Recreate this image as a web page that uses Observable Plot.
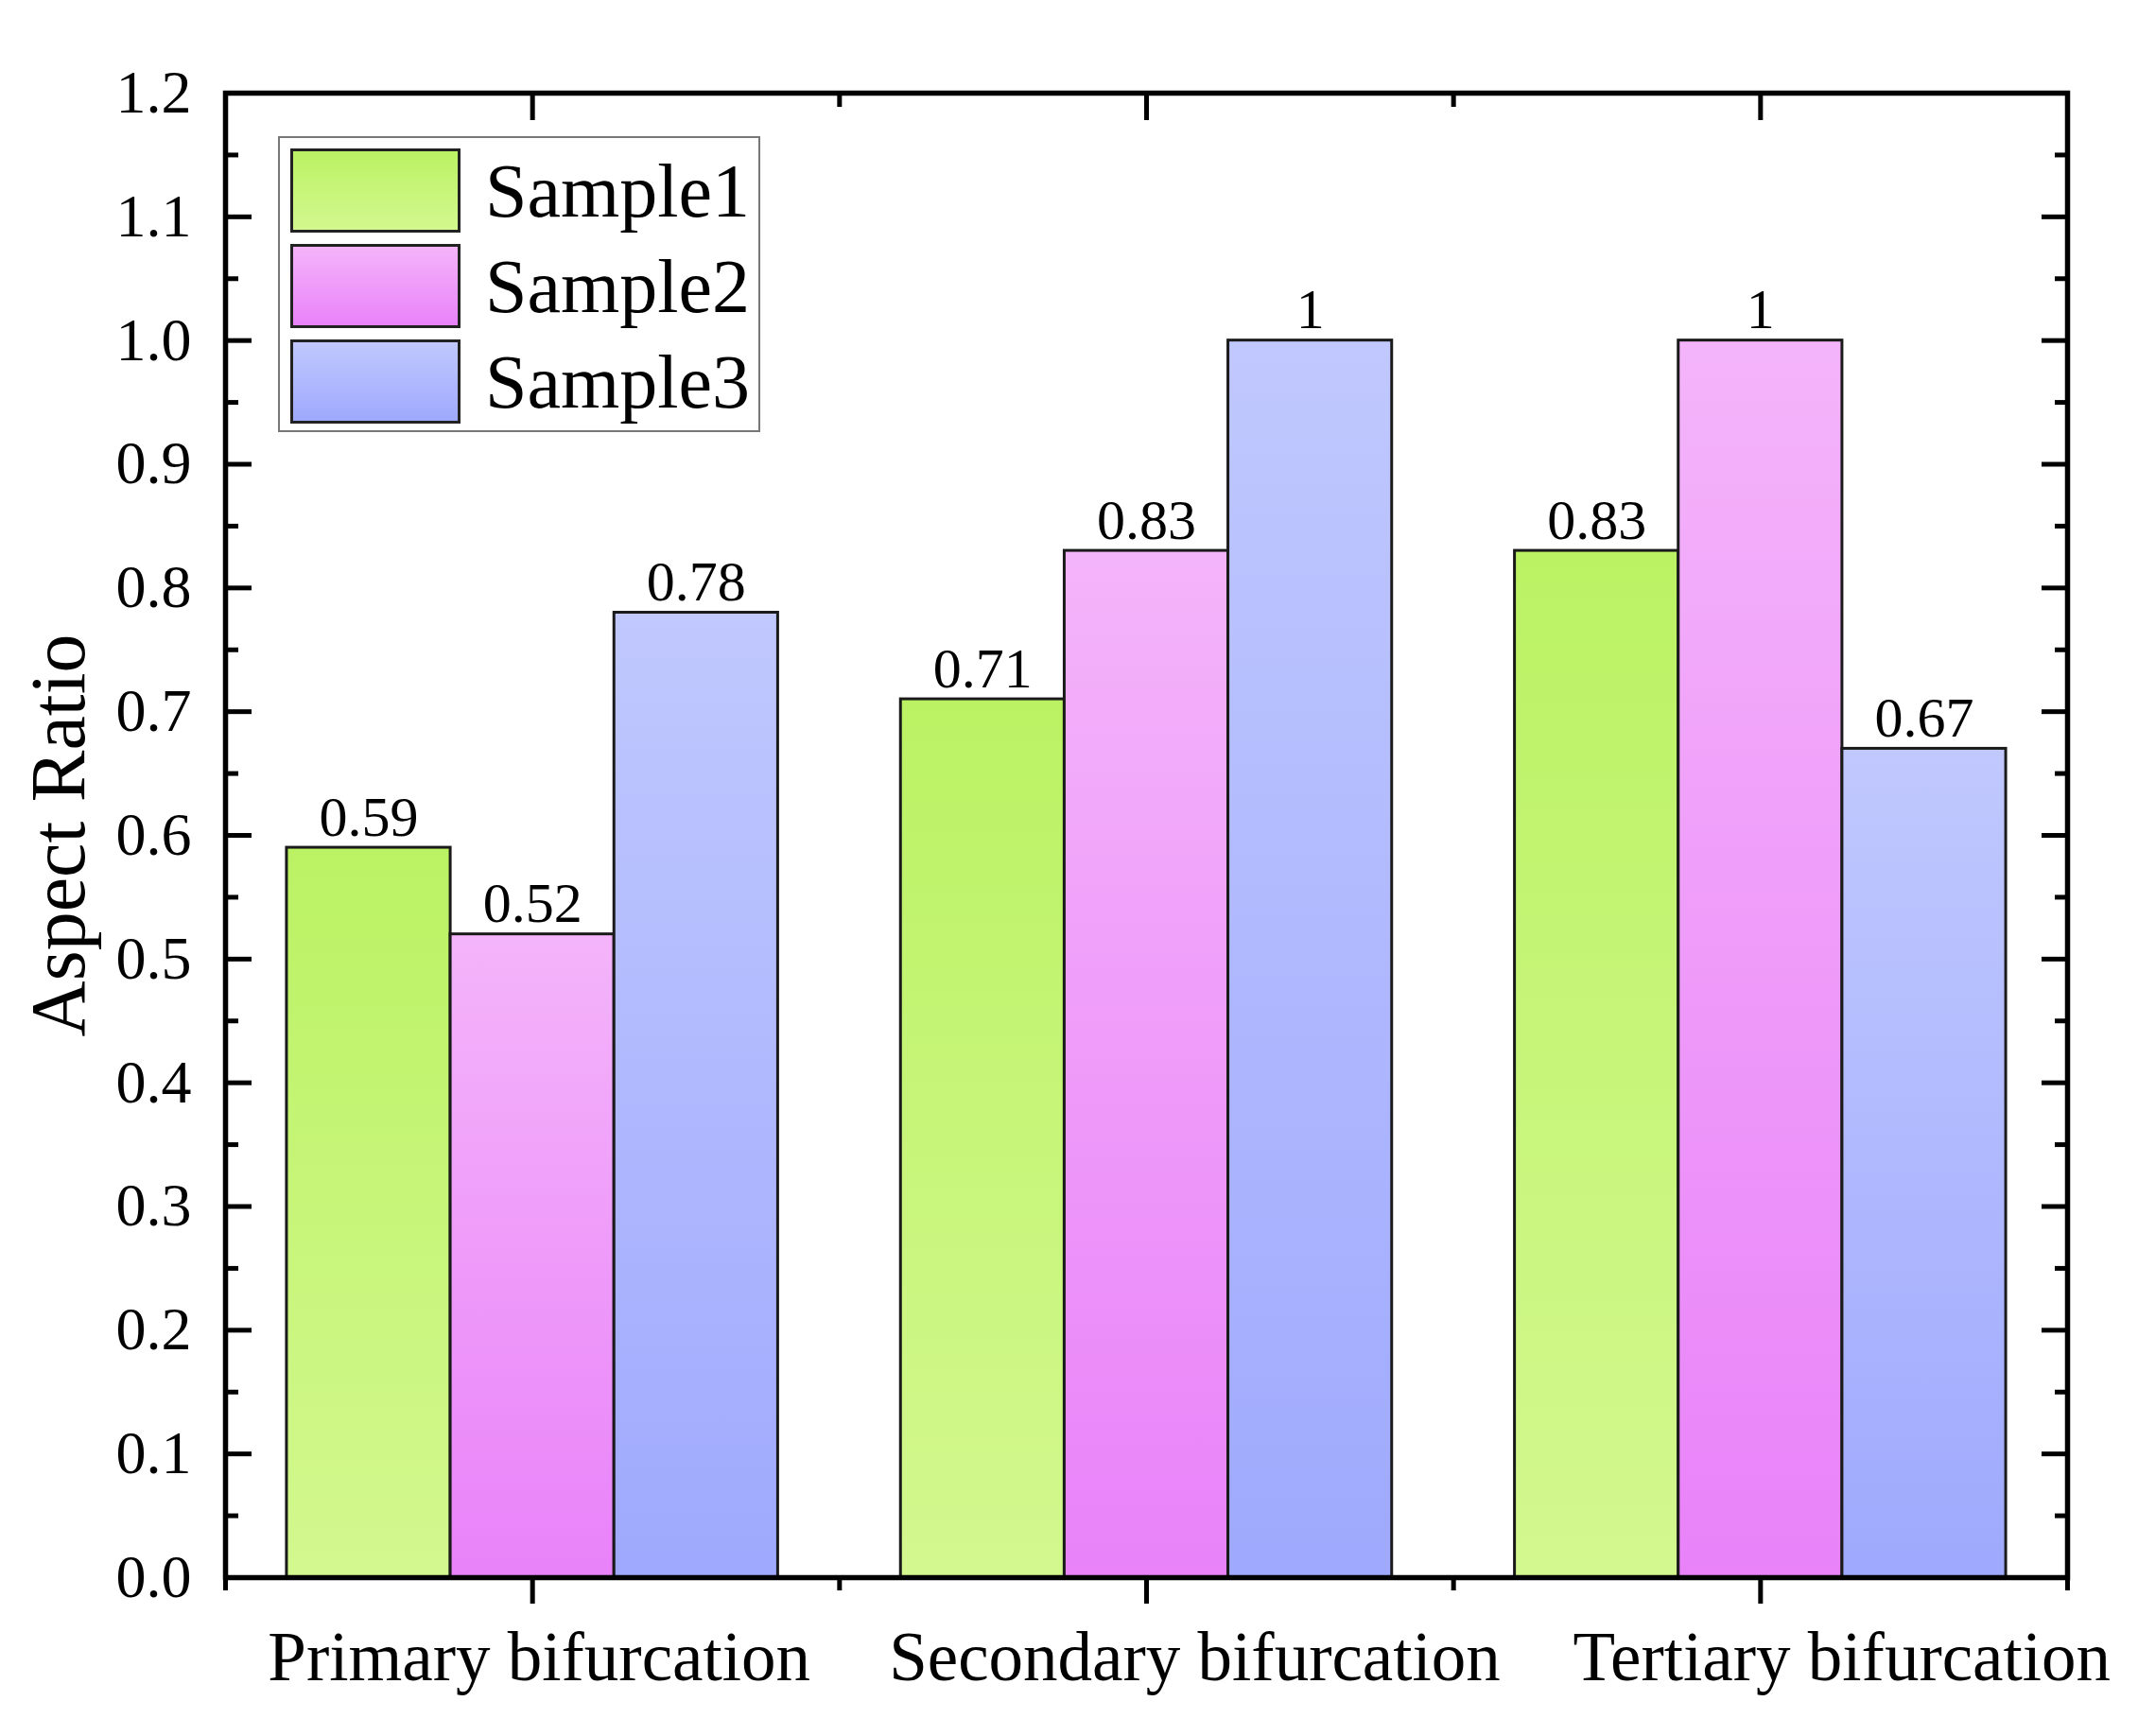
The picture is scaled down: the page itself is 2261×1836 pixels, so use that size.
<!DOCTYPE html>
<html>
<head>
<meta charset="utf-8">
<script src="https://cdn.jsdelivr.net/npm/d3@7"></script>
<script src="https://cdn.jsdelivr.net/npm/@observablehq/plot@0.6"></script>
<style>
  html, body { margin: 0; padding: 0; background: #fff; }
  #wrap { position: relative; width: 2261px; height: 1836px; font-family: "Liberation Serif", "Times New Roman", serif; }
  #legend { position: absolute; left: 294px; top: 144px; width: 506px; height: 309px; border: 2px solid #777; background: #fff; }
  .item { position: absolute; left: 11px; height: 89px; display: flex; align-items: center; }
  .sw { width: 174px; height: 83px; border: 3px solid #222; margin-right: 26px; }
  .lab { font-size: 80px; color: #000; line-height: 1; }
</style>
</head>
<body>
<svg width="0" height="0" style="position:absolute">
  <defs id="defs"></defs>
</svg>
<div id="wrap"><div id="chart"></div><div id="legend"></div></div>
<script>
const categories = ["Primary bifurcation", "Secondary bifurcation", "Tertiary bifurcation"];
const series = ["Sample1", "Sample2", "Sample3"];
const sample1 = [0.59, 0.71, 0.83];
const sample2 = [0.52, 0.83, 1.00];
const sample3 = [0.78, 1.00, 0.67];
const topColors = ["#bbf263", "#f4b4fa", "#c0c8fe"];
const bottomColors = ["#d3f88f", "#e982f9", "#9fa9fd"];
const yMajor = d3.range(13).map(i => i / 10);
const yMinor = d3.range(12).map(i => i / 10 + 0.05);
const labelNudge = [7, 51, 86]; // horizontal offset (px) of the category labels, as in the reference

const values = [sample1, sample2, sample3];
const rows = categories.flatMap((c, i) => series.map((s, j) => ({category: c, series: s, gi: i, si: j, value: values[j][i]})));

// gradients (per bar, top -> bottom)
const defs = d3.select("#defs");
series.forEach((s, j) => {
  const g = defs.append("linearGradient").attr("id", "g" + j).attr("x1", 0).attr("y1", 0).attr("x2", 0).attr("y2", 1);
  g.append("stop").attr("offset", "0%").attr("stop-color", topColors[j]);
  g.append("stop").attr("offset", "100%").attr("stop-color", bottomColors[j]);
});

const groupWidth = 0.8;
const bw = groupWidth / series.length;
const left = d => d.gi - groupWidth / 2 + d.si * bw;
const font = '"Liberation Serif", "Times New Roman", serif';

const chart = Plot.plot({
  width: 2261,
  height: 1836,
  marginLeft: 238,
  marginRight: 75,
  marginTop: 98,
  marginBottom: 168,
  style: {fontFamily: font, color: "#000", background: "#fff"},
  x: {domain: [-0.5, 2.5], axis: null},
  y: {domain: [0, 1.2], axis: null},
  color: {type: "identity"},
  marks: [
    Plot.rectY(rows, {
      x1: left,
      x2: d => left(d) + bw,
      y: "value",
      fill: d => `url(#g${d.si})`,
      stroke: "#1a1a1a",
      strokeWidth: 3
    }),
    Plot.text(rows, {
      x: d => left(d) + bw / 2,
      y: "value",
      text: d => String(d.value),
      lineAnchor: "bottom",
      dy: -13,
      fontSize: 60,
      fill: "#000"
    }),
    Plot.frame({stroke: "#000", strokeWidth: 5.5}),
    // y axis labels
    Plot.axisY(yMajor, {anchor: "left", tickSize: 0, tickPadding: 36, fontSize: 64, tickFormat: d3.format(".1f"), label: null}),
    // y ticks (inward)
    Plot.axisY(yMajor, {anchor: "left", tickSize: -28, strokeWidth: 5, fill: "none", label: null}),
    Plot.axisY(yMinor, {anchor: "left", tickSize: -14, strokeWidth: 5, fill: "none", label: null}),
    Plot.axisY(yMajor, {anchor: "right", tickSize: -28, strokeWidth: 5, fill: "none", label: null}),
    Plot.axisY(yMinor, {anchor: "right", tickSize: -14, strokeWidth: 5, fill: "none", label: null}),
    // x axis labels
    ...categories.map((c, i) => Plot.axisX([i], {anchor: "bottom", tickSize: 0, tickPadding: 57, dx: labelNudge[i], fontSize: 73, tickFormat: k => categories[k], label: null})),
    // x ticks
    Plot.axisX(d3.range(categories.length), {anchor: "bottom", tickSize: 28, strokeWidth: 5, fill: "none", label: null}),
    Plot.axisX(d3.range(categories.length + 1).map(i => i - 0.5), {anchor: "bottom", tickSize: 14, strokeWidth: 5, fill: "none", label: null}),
    Plot.axisX(d3.range(categories.length), {anchor: "top", tickSize: -28, strokeWidth: 5, fill: "none", label: null}),
    Plot.axisX(d3.range(categories.length + 1).map(i => i - 0.5), {anchor: "top", tickSize: -14, strokeWidth: 5, fill: "none", label: null}),
    // y axis title
    Plot.text(["Aspect Ratio"], {text: d => d, frameAnchor: "left", textAnchor: "middle", dx: -176, rotate: -90, fontSize: 82, fill: "#000"})
  ]
});
document.getElementById("chart").appendChild(chart);

// legend
const legend = d3.select("#legend");
series.forEach((s, j) => {
  const item = legend.append("div").attr("class", "item").style("top", (11 + j * 101) + "px");
  item.append("div").attr("class", "sw").style("background", `linear-gradient(to bottom, ${topColors[j]}, ${bottomColors[j]})`);
  item.append("div").attr("class", "lab").text(s);
});
</script>
</body>
</html>
